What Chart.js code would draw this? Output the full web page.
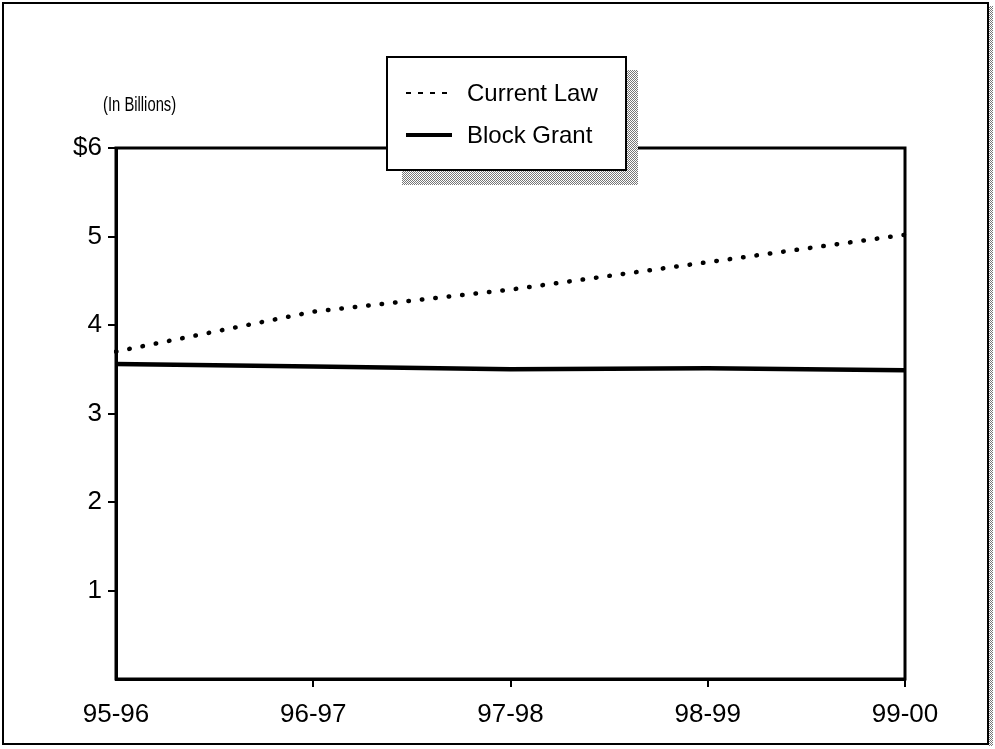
<!DOCTYPE html>
<html>
<head>
<meta charset="utf-8">
<script src="https://cdn.jsdelivr.net/npm/chart.js@4.4.1/dist/chart.umd.min.js"></script>
<style>
  html, body { margin: 0; padding: 0; background: #fff; }
  #wrap { width: 995px; height: 749px; position: relative; }
</style>
</head>
<body>
<div id="wrap"><canvas id="chart" width="995" height="749"></canvas></div>
<script>
const years = ['95-96', '96-97', '97-98', '98-99', '99-00'];
const currentLaw = [3.70, 4.15, 4.40, 4.71, 5.02];
const blockGrant = [3.56, 3.53, 3.50, 3.51, 3.49];
const yTickLabels = ['', '1', '2', '3', '4', '5', '$6'];
const unitLabel = '(In Billions)';

const FONT = '"Liberation Sans", Arial, Helvetica, sans-serif';

// fine grey stipple used for the drop shadows
function stipple() {
    const c = document.createElement('canvas');
    c.width = 2; c.height = 2;
    const g = c.getContext('2d');
    g.fillStyle = '#fff';
    g.fillRect(0, 0, 2, 2);
    g.fillStyle = '#777';
    g.fillRect(0, 0, 1, 1);
    g.fillRect(1, 1, 1, 1);
    return c;
}

const framePlugin = {
    id: 'frame',
    beforeDraw(chart) {
        const ctx = chart.ctx;
        ctx.save();
        ctx.fillStyle = '#fff';
        ctx.fillRect(0, 0, chart.width, chart.height);
        // outer page frame with shadow strip on the right
        ctx.fillStyle = ctx.createPattern(stipple(), 'repeat');
        ctx.fillRect(988, 6, 5, 740);
        ctx.strokeStyle = '#000';
        ctx.lineWidth = 2;
        ctx.strokeRect(3, 3, 985, 741);
        // unit label, condensed like the original type
        ctx.fillStyle = '#000';
        ctx.font = '20px ' + FONT;
        ctx.textBaseline = 'middle';
        ctx.translate(103, 105);
        ctx.scale(0.74, 1);
        ctx.fillText(unitLabel, 0, 0);
        ctx.restore();
    },
    afterDatasetsDraw(chart) {
        const ctx = chart.ctx;
        const a = chart.chartArea;
        ctx.save();
        ctx.strokeStyle = '#000';
        ctx.lineWidth = 3;
        ctx.strokeRect(a.left, a.top, a.right - a.left, a.bottom - a.top);
        ctx.restore();
    },
    afterDraw(chart) {
        // legend box overlapping the top of the plot
        const ctx = chart.ctx;
        const x = 387, y = 57, w = 239, h = 113;
        ctx.save();
        ctx.fillStyle = ctx.createPattern(stipple(), 'repeat');
        ctx.fillRect(x + w, y + 13, 12, h + 2);
        ctx.fillRect(x + 15, y + h, w - 3, 15);
        ctx.fillStyle = '#fff';
        ctx.fillRect(x, y, w, h);
        ctx.strokeStyle = '#000';
        ctx.lineWidth = 2;
        ctx.strokeRect(x, y, w, h);
        const rows = [93, 135];
        chart.data.datasets.forEach((ds, i) => {
            const ry = rows[i];
            ctx.beginPath();
            ctx.strokeStyle = '#000';
            if (i === 0) {
                ctx.lineWidth = 2;
                ctx.setLineDash([5, 7]);
            } else {
                ctx.lineWidth = 4;
                ctx.setLineDash([]);
            }
            ctx.moveTo(406, ry);
            ctx.lineTo(452, ry);
            ctx.stroke();
            ctx.setLineDash([]);
            ctx.fillStyle = '#000';
            ctx.font = '24px ' + FONT;
            ctx.textBaseline = 'middle';
            ctx.fillText(ds.label, 467, ry + 1);
        });
        ctx.restore();
    }
};

new Chart(document.getElementById('chart').getContext('2d'), {
    type: 'line',
    data: {
        labels: years,
        datasets: [
            {
                label: 'Current Law',
                data: currentLaw,
                borderColor: '#000',
                borderWidth: 4.5,
                borderDash: [0.5, 13],
                borderCapStyle: 'round',
                pointRadius: 0,
                tension: 0,
                fill: false
            },
            {
                label: 'Block Grant',
                data: blockGrant,
                borderColor: '#000',
                borderWidth: 4.5,
                pointRadius: 0,
                tension: 0,
                fill: false
            }
        ]
    },
    options: {
        responsive: false,
        animation: false,
        layout: { padding: { left: 0, right: 90, top: 148, bottom: 0 } },
        plugins: { legend: { display: false }, tooltip: { enabled: false } },
        scales: {
            x: {
                offset: false,
                afterFit: s => { s.height = 70; },
                border: { display: true, color: '#000', width: 3 },
                grid: {
                    drawOnChartArea: false,
                    drawTicks: true,
                    tickLength: 8,
                    lineWidth: 2,
                    color: c => (c.index === 0 ? 'rgba(0,0,0,0)' : '#000')
                },
                ticks: { color: '#000', font: { family: FONT, size: 26 }, padding: 12, maxRotation: 0 }
            },
            y: {
                min: 0,
                max: 6,
                afterFit: s => { s.width = 116; },
                border: { display: true, color: '#000', width: 3 },
                grid: {
                    drawOnChartArea: false,
                    drawTicks: true,
                    tickLength: 8,
                    lineWidth: 2,
                    color: c => (c.tick && c.tick.value === 0 ? 'rgba(0,0,0,0)' : '#000')
                },
                ticks: {
                    stepSize: 1,
                    color: '#000',
                    padding: 6,
                    font: { family: FONT, size: 26 },
                    callback: v => yTickLabels[v]
                }
            }
        }
    },
    plugins: [framePlugin]
});
</script>
</body>
</html>
